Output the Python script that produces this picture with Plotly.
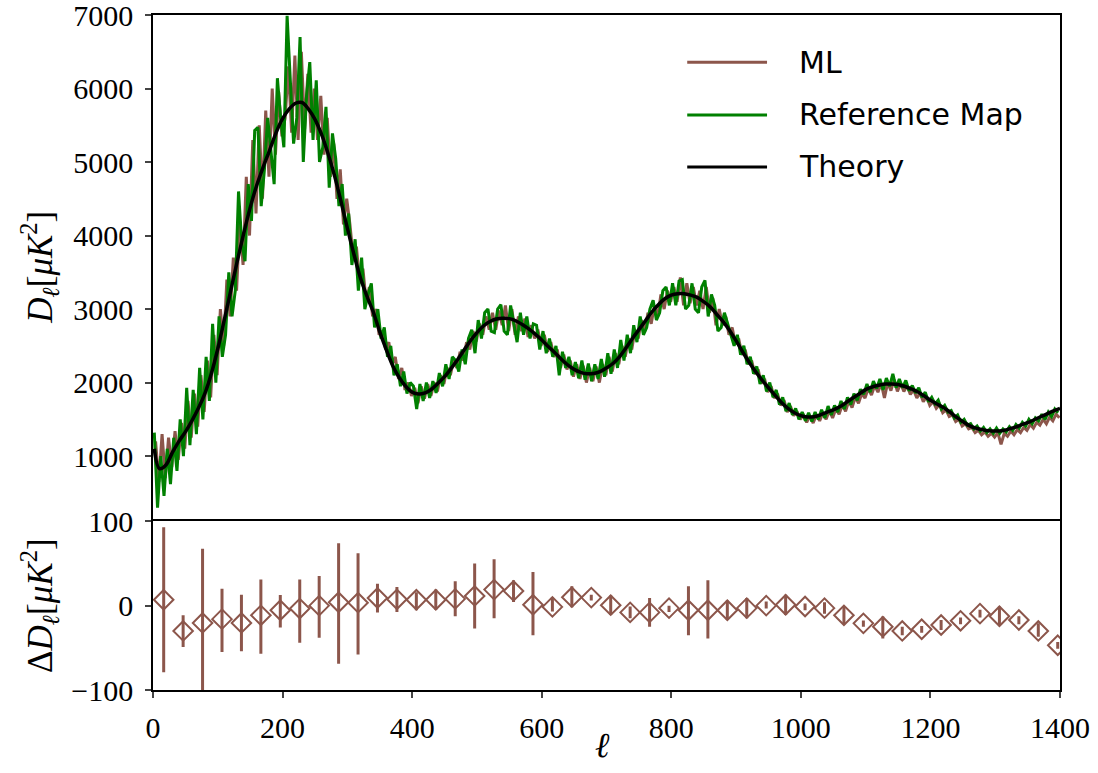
import plotly.graph_objects as go
from plotly.subplots import make_subplots

# multipoles for the two noisy spectra (every 5th ell)
ell_ref = list(range(2, 1400, 5))
ell_ml = list(range(4, 1400, 5))

# Reference Map spectrum, D_ell in muK^2
d_ref = [
    1320, 300, 1000, 460, 1100, 620, 1250, 800, 1500, 1000,
    1930, 1150, 1900, 1300, 2200, 1500, 2350, 1750, 2800, 2000,
    2900, 2350, 2650, 3500, 2900, 3250, 4600, 3900, 3650, 4700,
    4200, 5430, 5470, 4400, 4900, 5600, 5150, 4700, 6140, 5600,
    5200, 6990, 6100, 5250, 5600, 6700, 5000, 5900, 6360, 5300,
    6110, 5000, 5200, 5750, 4650, 5390, 5050, 4400, 4700, 4000,
    4300, 3600, 3950, 3250, 3700, 3000, 3200, 3350, 2750, 3000,
    2600, 2750, 2350, 2500, 2100, 2250, 1950, 2150, 1850, 2000,
    1950, 1640, 1980, 1750, 2000, 1790, 2020, 1860, 2130, 1950,
    2250, 2050, 2350, 2300, 2150, 2450, 2250, 2600, 2720, 2400,
    2850, 2600, 2950, 3000, 2700, 2680, 3000, 3060, 2700, 2650,
    3050, 2800, 2550, 2950, 2650, 2900, 2600, 2800, 2780, 2450,
    2700, 2400, 2600, 2350, 2500, 2100, 2420, 2200, 2350, 2100,
    2280, 2060, 2300, 2040, 2260, 2020, 2250, 2050, 2320, 2080,
    2400, 2120, 2450, 2200, 2580, 2300, 2650, 2400, 2780, 2550,
    2900, 2650, 2750, 3000, 3120, 2850, 2950, 3250, 3300, 3050,
    3350, 3050, 3380, 3400, 3000, 3050, 3350, 3000, 2950, 3300,
    3390, 2900, 3200, 3050, 2700, 2750, 2950, 2800, 2650, 2500,
    2650, 2380, 2500, 2250, 2350, 2120, 2220, 1980, 2100, 1880,
    2000, 1800, 1900, 1700, 1800, 1610, 1720, 1560, 1650, 1500,
    1600, 1480, 1590, 1470, 1600, 1500, 1630, 1520, 1680, 1560,
    1690, 1600, 1750, 1640, 1800, 1700, 1850, 1760, 1910, 1840,
    1980, 1870, 2020, 1920, 2050, 1900, 2060, 1950, 2120, 1930,
    2050, 1930, 2030, 1890, 1960, 1860, 1930, 1800, 1870, 1740,
    1800, 1710, 1760, 1640, 1690, 1600, 1620, 1520, 1560, 1460,
    1500, 1420, 1440, 1370, 1410, 1340, 1390, 1320, 1370, 1310,
    1380, 1310, 1370, 1330, 1400, 1350, 1430, 1380, 1460, 1410,
    1500, 1440, 1520, 1480, 1570, 1500, 1600, 1540, 1640, 1590,
]

# ML spectrum
d_ml = [
    1200, 650, 1300, 700, 1250, 850, 1340, 950, 1450, 1100,
    1750, 1250, 1850, 1400, 2100, 1600, 2300, 1800, 2650, 2100,
    3000, 2500, 3400, 2900, 3700, 3250, 4200, 3600, 4800, 4000,
    5300, 4300, 5500, 4500, 5700, 4800, 6000, 5100, 5950, 5350,
    5600, 6300, 5400, 6450, 5300, 6500, 5450, 6200, 5400, 6000,
    5300, 5900, 5100, 5600, 4800, 5250, 4500, 4900, 4150, 4500,
    4150, 3700, 3850, 3350, 3550, 3100, 3300, 2900, 3000, 2650,
    2700, 2450, 2550, 2250, 2350, 2050, 2200, 1900, 2000, 1820,
    1930, 1720, 1950, 1780, 1980, 1820, 2000, 1880, 2100, 1980,
    2200, 2100, 2300, 2200, 2420, 2300, 2550, 2450, 2700, 2560,
    2800, 2650, 2900, 2720, 2950, 2720, 2980, 2780, 3050, 2700,
    3000, 2650, 2900, 2700, 2870, 2620, 2780, 2600, 2720, 2500,
    2650, 2420, 2550, 2350, 2450, 2200, 2380, 2180, 2300, 2080,
    2250, 2050, 2230, 2000, 2200, 2020, 2220, 2000, 2250, 2100,
    2350, 2150, 2400, 2250, 2500, 2350, 2600, 2450, 2720, 2600,
    2850, 2700, 2950, 2800, 3050, 2900, 3200, 3000, 3250, 3100,
    3300, 3100, 3430, 3050, 3350, 3080, 3300, 3050, 3250, 3000,
    3300, 2950, 3150, 2780, 3000, 2780, 2900, 2650, 2750, 2520,
    2600, 2380, 2450, 2250, 2300, 2120, 2180, 1990, 2050, 1870,
    1950, 1790, 1850, 1690, 1760, 1600, 1680, 1550, 1610, 1500,
    1560, 1460, 1550, 1450, 1560, 1480, 1590, 1500, 1620, 1520,
    1640, 1570, 1700, 1610, 1750, 1660, 1800, 1720, 1850, 1790,
    1920, 1830, 1960, 1870, 1990, 1790, 2000, 1890, 2040, 1880,
    1990, 1880, 1960, 1840, 1900, 1790, 1860, 1740, 1810, 1690,
    1740, 1650, 1700, 1590, 1630, 1540, 1560, 1470, 1500, 1410,
    1440, 1370, 1390, 1320, 1350, 1290, 1330, 1270, 1310, 1260,
    1320, 1160, 1310, 1270, 1340, 1290, 1360, 1320, 1390, 1350,
    1430, 1380, 1460, 1420, 1500, 1440, 1530, 1480, 1570, 1520,
]

# theory curve
ell_th = [2] + list(range(10, 1401, 10))
d_th = [
    1100, 830, 880, 1050, 1200, 1330, 1480, 1650, 1850, 2120, 2460,
    2850, 3250, 3650, 4030, 4380, 4680, 4930, 5160, 5400, 5590,
    5720, 5800, 5810, 5720, 5580, 5380, 5120, 4820, 4470, 4100,
    3750, 3430, 3180, 2960, 2690, 2450, 2230, 2070, 1950, 1870,
    1845, 1860, 1910, 1990, 2080, 2190, 2310, 2440, 2570, 2680,
    2770, 2830, 2865, 2875, 2870, 2840, 2790, 2730, 2660, 2580,
    2490, 2410, 2320, 2240, 2180, 2140, 2120, 2125, 2150, 2200,
    2260, 2350, 2470, 2600, 2720, 2840, 2960, 3060, 3140, 3190,
    3210, 3210, 3190, 3160, 3100, 3030, 2930, 2830, 2710, 2570,
    2420, 2280, 2150, 2035, 1930, 1830, 1730, 1650, 1590, 1550,
    1532, 1535, 1560, 1595, 1630, 1670, 1730, 1790, 1845, 1905,
    1940, 1965, 1980, 1982, 1975, 1950, 1915, 1875, 1820, 1760,
    1710, 1660, 1600, 1530, 1470, 1415, 1380, 1360, 1345, 1341,
    1345, 1365, 1390, 1425, 1455, 1495, 1535, 1575, 1615, 1650,
]

# binned residuals (ML - theory)
ell_bin = [16.5, 46.5, 76.5, 106.5, 136.5, 166.5, 196.5, 226.5, 256.5, 286.5,
           316.5, 346.5, 376.5, 406.5, 436.5, 466.5, 496.5, 526.5, 556.5, 586.5,
           616.5, 646.5, 676.5, 706.5, 736.5, 766.5, 796.5, 826.5, 856.5, 886.5,
           916.5, 946.5, 976.5, 1006.5, 1036.5, 1066.5, 1096.5, 1126.5, 1156.5,
           1186.5, 1216.5, 1246.5, 1276.5, 1306.5, 1336.5, 1366.5, 1396.5]
delta = [7, -30, -20.5, -16, -20.5, -11.5, -5.5, -3.5, 0, 4, 3.5, 9, 7.5, 7, 7,
         8, 11.5, 19, 17.4, 1, -1.5, 10, 9.5, 0.5, -8, -8, -3, -5.5, -5.5, -5.5,
         -3, 0, 1, -1, -3, -11.5, -21, -25, -30, -28, -23, -18, -9.5, -12.6,
         -17, -30, -47]
err_hi = [86, 18.5, 88, 36, 33.5, 42.5, 18, 34.5, 35, 70, 58.5, 17, 14.5, 9, 12,
          21, 38.5, 36, 12.6, 39, 11.5, 13, 3.5, 11.5, 7, 17, 3, 28.5, 35.5, 11.5,
          12, 5, 12, 3.5, 7, 10, 3.5, 12, 5, 4, 6, 4, 4.5, 11.6, 4.4, 9, 4]
err_lo = [86, 19, 94.5, 39, 33.5, 45.5, 20.5, 40.5, 38, 73, 61.5, 17, 15, 12.5,
          12, 20.6, 38.5, 34, 13.1, 36, 5.5, 12, 3.5, 11.5, 7, 17, 4.5, 29.5,
          33.5, 11.5, 12, 3.5, 12, 4.5, 6.5, 10.5, 4, 14, 5, 4, 6, 4, 4.5, 10.4,
          5, 7, 4]

legend_names = ['ML', 'Reference Map', 'Theory']

BROWN = '#8c564b'
GREEN = '#008000'
SERIF = 'Liberation Serif'

fig = make_subplots(rows=2, cols=1, shared_xaxes=True, vertical_spacing=0,
                    row_heights=[0.75, 0.25])

fig.add_trace(go.Scatter(x=ell_ml, y=d_ml, mode='lines', name='ML',
                         line=dict(color=BROWN, width=3)), row=1, col=1)
fig.add_trace(go.Scatter(x=ell_ref, y=d_ref, mode='lines', name='Reference Map',
                         line=dict(color=GREEN, width=3)), row=1, col=1)
fig.add_trace(go.Scatter(x=ell_th, y=d_th, mode='lines', name='Theory',
                         line=dict(color='black', width=3.5, shape='spline')),
              row=1, col=1)

fig.add_hline(y=0, row=2, col=1, layer='below',
              line=dict(color='black', width=3, dash='14px,6px'))

fig.add_trace(go.Scatter(
    x=ell_bin, y=delta, mode='markers', name='residual',
    marker=dict(symbol='diamond-open', size=15, color=BROWN,
                line=dict(color=BROWN, width=2)),
    error_y=dict(type='data', symmetric=False, array=err_hi, arrayminus=err_lo,
                 color=BROWN, thickness=3, width=0)), row=2, col=1)

# hand-made legend with long line samples like matplotlib
leg_y = [0.930, 0.852, 0.775]
leg_col = [BROWN, GREEN, 'black']
for name, yy, c in zip(legend_names, leg_y, leg_col):
    fig.add_shape(type='line', xref='paper', yref='paper', x0=0.589, x1=0.677,
                  y0=yy, y1=yy, line=dict(color=c, width=3))
    fig.add_annotation(xref='paper', yref='paper', x=0.710, y=yy, text=name,
                       showarrow=False, xanchor='left', yanchor='middle',
                       font=dict(family='DejaVu Sans', size=30, color='black'))

# axis titles as annotations so they sit where the reference puts them
title_font = dict(family=SERIF, size=35, color='black')
fig.add_annotation(xref='paper', yref='paper', x=-0.1246, y=0.627, textangle=-90,
                   text='<i>D</i><sub><i>ℓ</i></sub>[<i>μK</i><sup>2</sup>]',
                   showarrow=False, xanchor='center', yanchor='middle', font=title_font)
fig.add_annotation(xref='paper', yref='paper', x=-0.1246, y=0.126, textangle=-90,
                   text='Δ<i>D</i><sub><i>ℓ</i></sub>[<i>μK</i><sup>2</sup>]',
                   showarrow=False, xanchor='center', yanchor='middle', font=title_font)
fig.add_annotation(xref='paper', yref='paper', x=0.496, y=-0.0815,
                   text='<i>ℓ</i>', showarrow=False, xanchor='center', yanchor='middle',
                   font=title_font)

axis_common = dict(showline=True, linecolor='black', linewidth=1.6,
                   showgrid=False, zeroline=False, automargin=False,
                   ticklabeloverflow='allow',
                   tickfont=dict(family=SERIF, size=30, color='black'))

fig.update_xaxes(range=[0, 1400], **axis_common)
fig.update_xaxes(showticklabels=False, ticks='', side='top', mirror=False, row=1, col=1)
fig.update_xaxes(ticks='outside', ticklen=6, tickwidth=1.6, mirror=True,
                 tickvals=list(range(0, 1401, 200)), ticklabelstandoff=4,
                 row=2, col=1)
fig.update_yaxes(mirror=True, **axis_common)
fig.update_yaxes(range=[114, 7000], tickvals=list(range(1000, 7001, 1000)),
                 ticks='outside', ticklen=6, tickwidth=1.6, ticklabelstandoff=6,
                 row=1, col=1)
fig.update_yaxes(range=[-100, 100], tickvals=[-100, 0, 100],
                 ticks='outside', ticklen=6, tickwidth=1.6, ticklabelstandoff=6,
                 row=2, col=1)

fig.update_layout(width=1098, height=773, showlegend=False,
                  plot_bgcolor='white', paper_bgcolor='white',
                  margin=dict(l=153, r=38, t=15, b=83))

# drop the default page margin so the figure sits at the window's corner
fig.write_html('out.html', config={'displayModeBar': False},
               post_script="document.body.style.margin='0';document.body.style.overflow='hidden';")
